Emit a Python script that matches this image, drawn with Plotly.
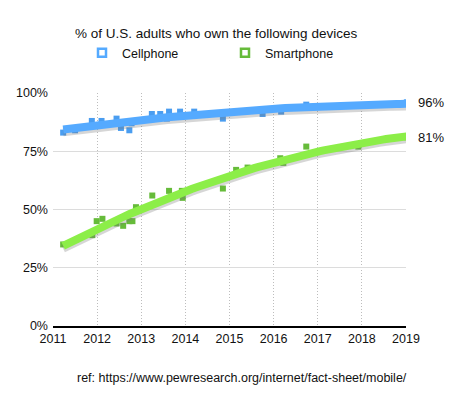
import numpy as np
import plotly.graph_objects as go

# ---- data ----
cell_x = [2011.23, 2011.50, 2011.88, 2012.10, 2012.44, 2012.54, 2012.73, 2012.78,
          2013.24, 2013.43, 2013.58, 2013.63, 2013.88, 2014.20, 2014.85, 2015.75,
          2016.17, 2016.74, 2019.02]
cell_y = [83, 84, 88, 88, 89, 85, 84, 87,
          91, 91, 89, 92, 92, 92, 89, 91,
          92, 95, 96]

smart_x = [2011.23, 2011.89, 2011.99, 2012.12, 2012.44, 2012.59, 2012.73, 2012.80,
           2012.88, 2013.25, 2013.63, 2013.92, 2013.94, 2014.85, 2015.15, 2015.41,
           2016.15, 2016.22, 2016.74, 2017.92, 2019.02]
smart_y = [35, 39, 45, 46, 44, 43, 45, 45,
           51, 56, 58, 58, 55, 59, 67, 68,
           72, 70, 77, 77, 81]

end_labels = ["96%", "81%"]
end_values = [96, 81]
year_ticks = list(range(2011, 2020))
pct_ticks = [0, 25, 50, 75, 100]

CELL_MK = "#4a9df0"
CELL_LN = "#55aaff"
SMART_MK = "#66bb3a"
SMART_LN = "#8cee48"
FONT = "Liberation Sans, Arial, Helvetica, sans-serif"

# page body adds an 8px offset; figure sized to compensate
W, H = 459, 390
ML, MR, MT, MB = 45, 61, 85, 72
PW = W - ML - MR
PH = H - MT - MB


def trend(xs, ys):
    c = np.polyfit(xs, ys, 2)
    tx = np.linspace(min(xs), max(xs), 100)
    return tx, np.polyval(c, tx)


fig = go.Figure()

# markers first (trend lines drawn over them)
fig.add_trace(go.Scatter(x=cell_x, y=cell_y, mode="markers", showlegend=False,
                         marker=dict(symbol="square", size=6, color=CELL_MK)))
fig.add_trace(go.Scatter(x=smart_x, y=smart_y, mode="markers", showlegend=False,
                         marker=dict(symbol="square", size=6, color=SMART_MK)))

for xs, ys, col in [(cell_x, cell_y, CELL_LN), (smart_x, smart_y, SMART_LN)]:
    tx, ty = trend(xs, ys)
    # soft shadow
    fig.add_trace(go.Scatter(x=tx, y=ty - 1.2, mode="lines", showlegend=False,
                             hoverinfo="skip",
                             line=dict(color="rgba(120,120,120,0.3)", width=8)))
    fig.add_trace(go.Scatter(x=tx, y=ty, mode="lines", showlegend=False,
                             line=dict(color=col, width=8)))

# legend entries
fig.add_trace(go.Scatter(x=[None], y=[None], mode="markers", name="Cellphone",
                         marker=dict(symbol="square-open", size=8, color=CELL_LN,
                                     line=dict(width=2.5, color=CELL_LN))))
fig.add_trace(go.Scatter(x=[None], y=[None], mode="markers", name="Smartphone",
                         marker=dict(symbol="square-open", size=8, color=SMART_MK,
                                     line=dict(width=2.5, color=SMART_MK))))

for lab, v in zip(end_labels, end_values):
    fig.add_annotation(x=2019, y=v, text=lab, showarrow=False, xanchor="left",
                       yanchor="middle", xshift=10, font=dict(size=13, color="#111"))

fig.add_annotation(x=(67 - ML) / PW, y=-(370 - MT - PH) / PH, xref="paper", yref="paper",
                   xanchor="left", yanchor="middle", showarrow=False,
                   text="ref: https://www.pewresearch.org/internet/fact-sheet/mobile/",
                   font=dict(size=12.5, color="#111"))

fig.update_layout(
    width=W, height=H,
    margin=dict(l=ML, r=MR, t=MT, b=MB),
    paper_bgcolor="white", plot_bgcolor="white",
    font=dict(family=FONT, size=12, color="#111"),
    title=dict(text="% of U.S. adults who own the following devices",
               x=67 / W, xanchor="left", xref="container",
               y=1 - 25 / H, yanchor="middle", yref="container",
               font=dict(size=13.5, color="#111")),
    legend=dict(orientation="h", x=(74 - ML) / PW, xanchor="left",
                y=1 + (MT - 45) / PH, yanchor="middle",
                font=dict(size=12.5), entrywidth=98, entrywidthmode="pixels",
                bgcolor="rgba(0,0,0,0)", itemclick=False),
    xaxis=dict(range=[2011, 2019], tickvals=year_ticks,
               ticktext=[str(y) for y in year_ticks],
               showgrid=True, gridcolor="#bdbdbd", griddash="1px,2px", gridwidth=1,
               showline=True, linecolor="#000", linewidth=2,
               zeroline=False, ticks="", tickfont=dict(size=12.5), automargin=False),
    yaxis=dict(range=[0, 100], tickvals=pct_ticks,
               ticktext=[f"{v}%" for v in pct_ticks],
               showgrid=True, gridcolor="#dcdcdc", gridwidth=1,
               zeroline=False, showline=False, ticks="",
               ticklabelstandoff=4, tickfont=dict(size=12.5), automargin=False),
    showlegend=True,
)

fig.write_html("out.html")
